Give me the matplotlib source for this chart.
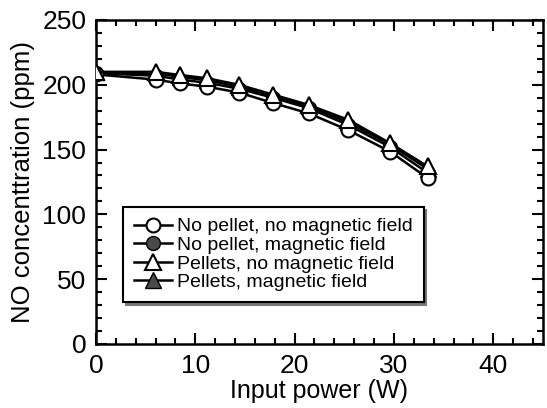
import matplotlib
matplotlib.use("Agg")
import matplotlib.pyplot as plt
from matplotlib.ticker import MultipleLocator

plt.rcParams["font.family"] = ["Liberation Sans", "DejaVu Sans"]

# input power (W)
power = [0.0, 6.0, 8.5, 11.2, 14.4, 17.8, 21.4, 25.4, 29.6, 33.4]

# NO concentration (ppm)
no_pellet_no_field = [208, 204, 201, 198.5, 194, 186, 178, 165, 148.5, 128]
no_pellet_field = [209, 207, 204, 201.5, 197, 190, 182, 169, 152, 132]
pellets_no_field = [210, 210, 207.5, 205, 200, 192.5, 184.5, 173, 155, 137]
pellets_field = [209.5, 209, 206, 203.5, 198.5, 191.5, 183.5, 171, 154, 135]

labels = ["No pellet, no magnetic field", "No pellet, magnetic field",
          "Pellets, no magnetic field", "Pellets, magnetic field"]

fig = plt.figure(figsize=(5.47, 4.08), dpi=100)
ax = fig.add_axes([0.1755, 0.157, 0.817, 0.794])

fill = "#4a4a4a"
ms = 10
ax.plot(power, no_pellet_no_field, "-o", color="black", lw=1.8, ms=ms,
        mfc="white", mec="black", mew=1.5, label=labels[0], zorder=4)
ax.plot(power, no_pellet_field, "-o", color="black", lw=1.8, ms=ms,
        mfc=fill, mec="black", mew=1.0, label=labels[1], zorder=3)
ax.plot(power, pellets_no_field, "-^", color="black", lw=1.8, ms=ms + 1,
        mfc="white", mec="black", mew=1.5, label=labels[2], zorder=4)
ax.plot(power, pellets_field, "-^", color="black", lw=1.8, ms=ms + 1,
        mfc=fill, mec="black", mew=1.0, label=labels[3], zorder=3)

ax.set_xlim(0, 45)
ax.set_ylim(0, 250)
ax.xaxis.set_major_locator(MultipleLocator(10))
ax.xaxis.set_minor_locator(MultipleLocator(2))
ax.yaxis.set_major_locator(MultipleLocator(50))
ax.yaxis.set_minor_locator(MultipleLocator(10))
ax.tick_params(which="both", direction="in", top=True, right=True,
               width=1.5, labelsize=19, colors="black")
ax.tick_params(which="major", length=8, pad=7)
ax.tick_params(which="minor", length=4.5)
for s in ax.spines.values():
    s.set_linewidth(1.8)

ax.set_xlabel("Input power (W)", fontsize=18, labelpad=1)
ax.set_ylabel("NO concenttration (ppm)", fontsize=18.5, labelpad=5)

leg = ax.legend(loc="lower left", bbox_to_anchor=(0.06, 0.13), fontsize=14,
                frameon=True, fancybox=False, shadow={"color": "#777777", "alpha": 1},
                handlelength=2.0, handletextpad=0.25, labelspacing=0.05,
                borderpad=0.55, borderaxespad=0)
leg.get_frame().set_edgecolor("black")
leg.get_frame().set_linewidth(1.5)

fig.savefig("out.png", dpi=100)
